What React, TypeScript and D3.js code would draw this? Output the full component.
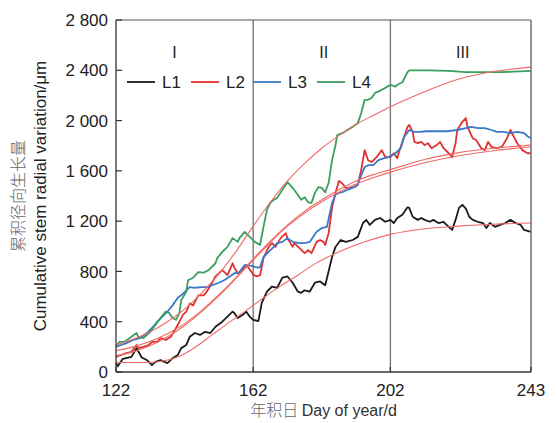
import React from 'react';
import * as d3 from 'd3';

// 观测数据 [年积日, 累积径向生长量 μm]
const seriesL1: [number, number][] = [
  [122,70],[122.5,45],[124,105],[126.5,120],[128,190],[129.5,115],[131,95],[132.5,55],[133.5,80],[135,95],[137,70],[138.5,110],[140,135],[141,190],[142.5,215],[143.5,280],[145,310],[146.5,295],[148,320],[149.5,310],[151,360],[153,400],[154.5,440],[156,480],[156.5,470],[157.5,430],[159,455],[160,480],[161,440],[162,415],[163.5,405],[164.5,550],[166,640],[167.5,680],[169,670],[170.5,750],[172,760],[173.5,710],[175,640],[176,630],[177,650],[178.5,640],[180,710],[181.5,720],[183,690],[185,915],[186,995],[187.5,1050],[189,1035],[191,1050],[192.5,1075],[194,1185],[195,1210],[196,1170],[197.5,1210],[199,1225],[200.5,1195],[202,1210],[203,1185],[204,1225],[205.5,1250],[207,1310],[207.5,1305],[208.5,1235],[210,1210],[211,1225],[212,1210],[213.5,1195],[214.5,1210],[216,1185],[217.5,1195],[219,1155],[220,1130],[221,1210],[222,1305],[223,1330],[224,1300],[225,1235],[226,1210],[227.5,1195],[229,1185],[230,1145],[231,1185],[232.5,1155],[234,1170],[235.5,1185],[237,1210],[238.5,1185],[240,1170],[241,1130],[243,1115]
];
const seriesL2: [number, number][] = [
  [122,120],[123.5,135],[125,150],[126.5,160],[128,215],[128.5,190],[130,200],[131.5,215],[132.5,240],[134,240],[135,270],[136.5,255],[138,280],[139.5,350],[140.5,400],[141.5,455],[142.5,480],[143.5,545],[144.5,530],[146,610],[147.5,610],[148.5,640],[150,710],[151,760],[153,810],[154.5,770],[156,865],[156.5,830],[157.5,785],[158.5,795],[160,850],[161,815],[162,775],[163,760],[164,770],[165,905],[166.5,995],[167.5,1025],[168.5,995],[170,1065],[171.5,1105],[172,1065],[173.5,995],[174,1025],[175.5,985],[177,945],[178,970],[179,945],[180.5,1035],[181.5,1050],[182.5,1035],[183,1010],[184,1105],[185,1310],[186,1425],[187,1520],[188,1500],[189,1465],[190,1465],[191.5,1470],[192.5,1490],[193.5,1610],[194.5,1765],[195.5,1685],[196.5,1670],[198,1710],[199.5,1765],[200.5,1710],[202,1710],[203,1740],[204,1700],[204.5,1750],[205.5,1830],[207,1950],[207.5,1965],[208.5,1910],[209,1830],[210,1820],[211,1830],[212,1805],[213,1820],[214,1780],[215.5,1805],[216.5,1830],[217.5,1780],[219,1740],[220,1710],[221,1820],[221.5,1925],[223,1990],[224,2020],[224.5,1950],[226,1860],[227,1845],[228.5,1780],[229.5,1765],[230.5,1830],[231.5,1790],[233,1780],[234.5,1790],[236,1860],[237,1925],[238,1870],[239,1820],[240.5,1765],[242,1740],[243,1740]
];
const seriesL3: [number, number][] = [
  [122,200],[123.5,215],[125,230],[127,255],[129,270],[131,310],[132.5,350],[134,400],[135.5,440],[137,480],[138.5,530],[140,590],[141,610],[142.5,650],[143.5,675],[145,670],[147,675],[148.5,675],[150,690],[152,710],[153.5,730],[155,755],[156.5,785],[158,795],[159.5,850],[160.5,850],[162,840],[163.5,830],[164,835],[165,915],[166.5,955],[168,995],[169,1025],[170.5,1035],[172,1065],[173.5,1035],[175.5,1025],[177,1025],[178.5,1035],[179.5,1075],[180.5,1115],[182,1145],[183.5,1155],[185,1345],[186,1410],[187,1425],[188,1430],[189.5,1450],[191,1465],[192.5,1490],[193,1530],[194.5,1630],[195.5,1645],[197,1645],[198.5,1685],[200,1700],[201.5,1710],[202.5,1725],[203.5,1740],[205,1780],[206,1870],[207.5,1925],[209,1910],[210.5,1910],[212.5,1915],[215.5,1915],[218.5,1915],[221.5,1925],[224,1940],[225.5,1950],[227.5,1940],[229.5,1940],[231.5,1925],[233,1910],[235,1910],[237,1900],[239,1910],[241,1900],[242,1875],[243,1860]
];
const seriesL4: [number, number][] = [
  [122,200],[123,240],[124.5,240],[126,270],[126.5,280],[128,310],[128.5,280],[130,270],[132,320],[133.5,375],[135,430],[136.5,480],[137.5,470],[138.5,430],[139.5,415],[140.5,470],[141,570],[142.5,640],[143,730],[144.5,750],[146,795],[147.5,790],[149,810],[151,865],[151.5,905],[153,955],[154.5,995],[156,1065],[157.5,1035],[158,1065],[159.5,1115],[161,1075],[162.5,1035],[164,1010],[165,1155],[166,1290],[167,1345],[168,1370],[169,1385],[170.5,1450],[172,1510],[173.5,1465],[175,1410],[176,1370],[177,1390],[178,1350],[179,1345],[180,1425],[181,1470],[182,1465],[183,1430],[184,1505],[185,1685],[186,1805],[186.5,1885],[188,1900],[189.5,1925],[191,1950],[192.5,1980],[193.5,2060],[194.5,2165],[195.5,2165],[196.5,2180],[197.5,2220],[198.5,2230],[199.5,2245],[200.5,2260],[202,2285],[203.5,2270],[204,2285],[205.5,2305],[207,2385],[207.5,2400],[213,2400],[219,2395],[224,2385],[228,2385],[234,2385],[243,2395]
];

// 拟合曲线（从图上读取的采样点）
const fitL1: [number, number][] = [[122,75],[130,75],[136,90],[140,120],[145,195],[150,295],[155,395],[160,490],[165,590],[170,685],[175,770],[180,860],[185,930],[190,990],[195,1040],[202,1095],[212,1140],[222,1160],[232,1175],[243,1185]];
const fitL2: [number, number][] = [[122,130],[127,160],[132,210],[137,280],[142,370],[147,480],[152,605],[157,745],[162,890],[167,1030],[172,1160],[177,1265],[182,1355],[187,1430],[192,1495],[197,1545],[202,1590],[212,1665],[222,1720],[232,1760],[243,1790]];
const fitL3: [number, number][] = [[122,170],[127,200],[132,245],[137,305],[142,385],[147,490],[152,615],[157,750],[162,900],[167,1040],[172,1170],[177,1280],[182,1370],[187,1450],[192,1520],[197,1570],[202,1610],[212,1690],[222,1745],[232,1780],[243,1805]];
const fitL4: [number, number][] = [[122,215],[127,260],[132,320],[137,400],[142,500],[147,630],[152,780],[157,960],[162,1160],[167,1350],[172,1520],[177,1660],[182,1780],[187,1880],[192,1970],[197,2040],[202,2110],[212,2230],[222,2330],[232,2390],[243,2425]];

const xTicks = [122, 162, 202, 243];
const yTicks = [0, 400, 800, 1200, 1600, 2000, 2400, 2800];
const stageDays = [162, 202];
const stageLabels = [
  { label: 'I', from: 122, to: 162 },
  { label: 'II', from: 162, to: 202 },
  { label: 'III', from: 202, to: 243 },
];
const legendNames = ['L1', 'L2', 'L3', 'L4'];
const lineColors = ['#1b1b1b', '#e0302f', '#3b78c8', '#3a9e5f'];

const W = 557;
const H = 423;
const margin = { top: 20, right: 26, bottom: 51, left: 116 };
const font = '"Liberation Sans", Arial, sans-serif';

export default function App() {
  const x = d3.scaleLinear().domain([122, 243]).range([margin.left, W - margin.right]);
  const y = d3.scaleLinear().domain([0, 2800]).range([H - margin.bottom, margin.top]);

  const line = d3.line<[number, number]>()
    .x(d => x(d[0]))
    .y(d => y(d[1]));
  const smooth = d3.line<[number, number]>()
    .x(d => x(d[0]))
    .y(d => y(d[1]))
    .curve(d3.curveMonotoneX);

  const series = [seriesL1, seriesL2, seriesL3, seriesL4];
  const fits = [fitL1, fitL2, fitL3, fitL4];
  const fmt = (v: number) => v >= 1000 ? `${Math.floor(v / 1000)} ${String(v % 1000).padStart(3, '0')}` : String(v);

  const x0 = x(122), x1 = x(243), yTop = y(2800), yBot = y(0);

  // 图例位置
  const legendX = [127, 191, 253, 317];

  return (
    <div style={{ position: 'fixed', left: 0, top: 0 }}>
      <svg width={W} height={H} style={{ display: 'block', background: '#fff' }} fontFamily={font}>
        {/* 阶段分隔线 */}
        {stageDays.map(d => (
          <line key={d} x1={x(d)} x2={x(d)} y1={yTop} y2={yBot} stroke="#7a7a7a" strokeWidth={1.4} />
        ))}

        {/* 观测曲线 */}
        {series.map((s, i) => (
          <path key={i} d={line(s) || ''} fill="none" stroke={lineColors[i]} strokeWidth={1.8} strokeLinejoin="round" />
        ))}

        {/* 拟合曲线 */}
        {fits.map((s, i) => (
          <path key={i} d={smooth(s) || ''} fill="none" stroke="#ee6a66" strokeWidth={1.1} />
        ))}

        {/* 边框 */}
        <line x1={x0} x2={x0} y1={yTop} y2={yBot} stroke="#333" strokeWidth={1.3} />
        <line x1={x0} x2={x1} y1={yBot} y2={yBot} stroke="#333" strokeWidth={1.3} />
        <line x1={x0} x2={x1} y1={yTop} y2={yTop} stroke="#555" strokeWidth={1} />
        <line x1={x1} x2={x1} y1={yTop} y2={yBot} stroke="#777" strokeWidth={1.6} />

        {/* y 轴刻度 */}
        {yTicks.map(t => (
          <g key={t}>
            <line x1={x0} x2={x0 + 6} y1={y(t)} y2={y(t)} stroke="#333" strokeWidth={1.2} />
            <text x={x0 - 8} y={y(t)} dy="0.36em" textAnchor="end" fontSize={17} fill="#222">{fmt(t)}</text>
          </g>
        ))}

        {/* x 轴刻度 */}
        {xTicks.map(t => (
          <g key={t}>
            <line x1={x(t)} x2={x(t)} y1={yBot} y2={yBot - 5} stroke="#333" strokeWidth={1.2} />
            <text x={x(t)} y={yBot + 24} textAnchor="middle" fontSize={17} fill="#222">{t}</text>
          </g>
        ))}

        {/* 阶段标签 */}
        {stageLabels.map(s => (
          <text key={s.label} x={(x(s.from) + x(s.to)) / 2 + (s.label === 'I' ? -10 : 2)} y={58} textAnchor="middle" fontSize={16} fill="#222">{s.label}</text>
        ))}

        {/* 图例 */}
        {legendNames.map((n, i) => (
          <g key={n}>
            <line x1={legendX[i]} x2={legendX[i] + 28} y1={82} y2={82} stroke={lineColors[i]} strokeWidth={1.8} />
            <text x={legendX[i] + 35} y={82} dy="0.36em" fontSize={17} fill="#222">{n}</text>
          </g>
        ))}

        {/* 轴标题 */}
        <text x={(x0 + x1) / 2} y={416} textAnchor="middle" fontSize={16} fill="#333">
          <tspan fontFamily='"Noto Sans CJK SC", sans-serif' fill="#666" fontWeight={300}>年积日 </tspan>Day of year/d
        </text>
        <text transform={`translate(24, ${(yTop + yBot) / 2}) rotate(-90)`} textAnchor="middle" fontSize={16} fill="#666"
          fontFamily='"Noto Sans CJK SC", sans-serif' fontWeight={300}>累积径向生长量</text>
        <text transform={`translate(46, ${(yTop + yBot) / 2}) rotate(-90)`} textAnchor="middle" fontSize={17} fill="#222">
          Cumulative stem radial variation/μm
        </text>
      </svg>
    </div>
  );
}
